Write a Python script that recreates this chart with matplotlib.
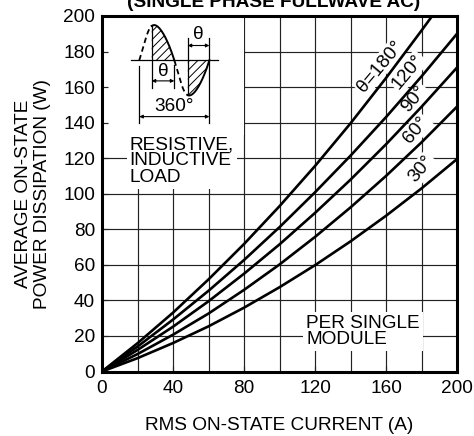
import numpy as np
import matplotlib.pyplot as plt
from matplotlib.patches import Rectangle

plt.rcParams['font.family'] = ['Liberation Sans', 'DejaVu Sans']
plt.rcParams['hatch.linewidth'] = 0.7

# RMS current (A) at which the curves were read
current = [0, 20, 40, 60, 80, 100, 120, 140, 160, 180, 200]
current_180 = [0, 20, 40, 60, 80, 100, 120, 140, 160, 180, 186]

# average on-state power dissipation (W) per conduction angle
p_180 = [0, 15.9, 33.1, 51.8, 71.7, 93.0, 115.6, 139.6, 165.1, 191.8, 200.0]
p_120 = [0, 14.0, 29.2, 45.4, 62.7, 81.2, 100.8, 121.4, 143.1, 166.0, 190.0]
p_90 = [0, 12.1, 25.2, 39.5, 55.0, 71.5, 89.2, 107.9, 127.8, 148.9, 171.0]
p_60 = [0, 9.8, 20.7, 32.6, 45.9, 60.2, 75.7, 92.3, 110.0, 128.9, 149.0]
p_30 = [0, 7.5, 16.0, 25.4, 35.9, 47.4, 59.8, 73.2, 87.6, 103.0, 119.5]

curve_labels = ['θ=180°', '120°', '90°', '60°', '30°']
label_pos = [(156.5, 171.5), (172.5, 168.5), (176.0, 153.5), (177.0, 136.0), (180.0, 114.0)]

FS = 13.7

fig = plt.figure(figsize=(4.74, 4.36), dpi=100)
ax = fig.add_axes([102 / 474, 1 - 371.5 / 436, 355 / 474, 355.5 / 436])
ax.set_xlim(0, 200)
ax.set_ylim(0, 200)
ax.set_axisbelow(True)

# grid drawn by hand so the tick marks can sit above the white patches
for v in range(20, 200, 20):
    ax.axvline(v, color='#222222', lw=0.85, zorder=0.3)
    ax.axhline(v, color='#222222', lw=0.85, zorder=0.3)

ax.set_xticks(range(0, 201, 40))
ax.set_yticks(range(0, 201, 20))
ax.tick_params(direction='in', length=4.5, width=0.85, labelsize=FS, color='#222222')
ax.tick_params(axis='y', pad=5)
ax.tick_params(axis='x', pad=6)
for s in ax.spines.values():
    s.set_linewidth(2.2)

# blank area behind the waveform sketch
ax.add_patch(Rectangle((0, 133), 80, 67, facecolor='white', edgecolor='none', zorder=0.4))

# curves
ax.plot(current_180, p_180, color='black', lw=1.9, zorder=2)
for p in [p_120, p_90, p_60, p_30]:
    ax.plot(current, p, color='black', lw=1.9, zorder=2)

for txt, (x, y) in zip(curve_labels, label_pos):
    ax.text(x, y, txt, fontsize=FS, rotation=50, rotation_mode='anchor',
            ha='center', va='center', zorder=1,
            bbox=dict(facecolor='white', edgecolor='none', pad=1))

ax.text(15.5, 118.5, 'RESISTIVE,\nINDUCTIVE\nLOAD', fontsize=FS, ha='left', va='center',
        linespacing=0.95, zorder=1, bbox=dict(facecolor='white', edgecolor='none', pad=2))
ax.text(115, 22.5, 'PER SINGLE\nMODULE', fontsize=FS, ha='left', va='center',
        linespacing=0.95, zorder=1, bbox=dict(facecolor='white', edgecolor='none', pad=2))

# waveform sketch
x0, w, skew, amp, yb = 21.0, 39.5, 1.5, 19.8, 175.1
fire1, fire2 = 28.0, 48.3
t = np.linspace(0, 2 * np.pi, 600)
wx = x0 + w * t / (2 * np.pi) - skew * np.sin(t) ** 2
wy = yb + amp * np.sin(t)
first = t <= np.pi
second = t >= np.pi
on1 = first & (wx >= fire1)
on2 = second & (wx >= fire2)
off1 = first & (wx <= fire1 + 0.3)
off2 = second & (wx <= fire2 + 0.3)

for sel in (on1, on2):
    ax.fill_between(wx[sel], yb, wy[sel], facecolor='white', hatch='////',
                    edgecolor='black', lw=0, zorder=1.4)
    ax.plot(wx[sel], wy[sel], color='black', lw=1.4, zorder=1.6)
for sel in (off1, off2):
    ax.plot(wx[sel], wy[sel], color='black', lw=1.3, ls=(0, (3, 2)), zorder=1.6)

y1 = np.interp(fire1, wx[first], wy[first])
y2 = np.interp(fire2, wx[second], wy[second])
ax.plot([fire1, fire1], [159.3, y1], color='black', lw=0.9, zorder=1.6)
ax.plot([fire2, fire2], [187.5, y2], color='black', lw=0.9, zorder=1.6)
ax.plot([16.3, 65.5], [yb, yb], color='black', lw=0.9, zorder=1.6)

end1 = x0 + w / 2
end2 = x0 + w
ax.plot([end1, end1], [172.5, 159.3], color='black', lw=0.9, zorder=1.6)
ax.plot([end2, end2], [187.5, 139.7], color='black', lw=0.9, zorder=1.6)
ax.plot([x0, x0], [172.0, 139.7], color='black', lw=0.9, zorder=1.6)

arrow = dict(arrowstyle='<|-|>', lw=0.8, color='black', shrinkA=0, shrinkB=0,
             mutation_scale=5)
ax.annotate('', xy=(fire1, 163.5), xytext=(end1, 163.5), arrowprops=arrow, zorder=1.6)
ax.annotate('', xy=(fire2, 183.4), xytext=(end2, 183.4), arrowprops=arrow, zorder=1.6)
ax.annotate('', xy=(x0, 143.4), xytext=(end2, 143.4), arrowprops=arrow, zorder=1.6)
ax.text((fire1 + end1) / 2, 169.0, 'θ', fontsize=FS, ha='center', va='center', zorder=1.6)
ax.text((fire2 + end2) / 2, 189.5, 'θ', fontsize=FS, ha='center', va='center', zorder=1.6)
ax.text((x0 + end2) / 2, 149.0, '360°', fontsize=FS, ha='center', va='center', zorder=1.6)

ax.set_xlabel('RMS ON-STATE CURRENT (A)', fontsize=FS)
ax.xaxis.set_label_coords(0.5, -0.128)
ax.set_ylabel('AVERAGE ON-STATE\nPOWER DISSIPATION (W)', fontsize=FS, linespacing=1.1)
ax.yaxis.set_label_coords(-0.145, 0.5)

fig.text(274 / 474, 1 - 7 / 436, '(SINGLE PHASE FULLWAVE AC)', fontsize=FS,
         fontweight='bold', ha='center', va='baseline')

fig.savefig('out.png', dpi=100)
